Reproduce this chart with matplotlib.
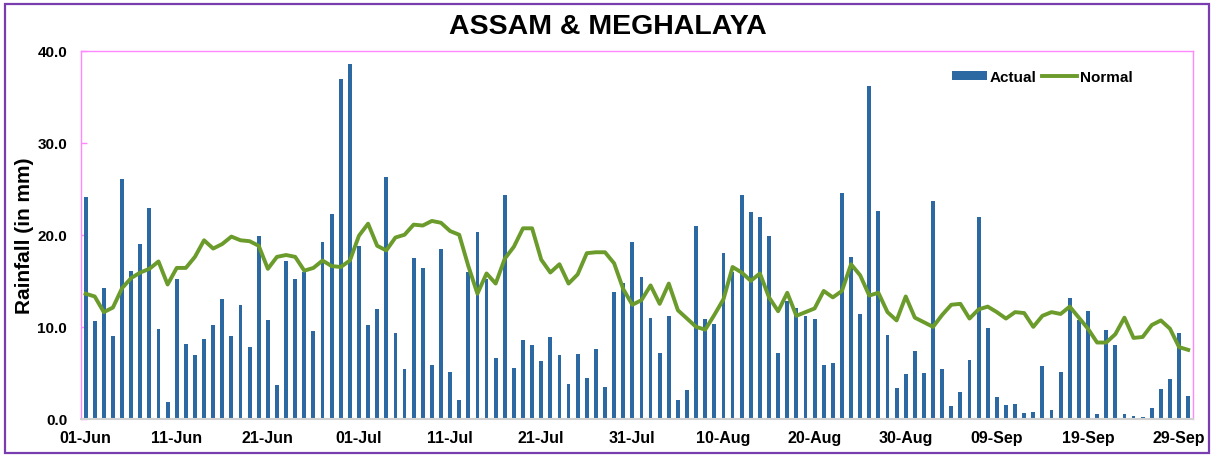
"""Daily rainfall: actual vs normal, Assam & Meghalaya (Jun-Sep)."""

import matplotlib

matplotlib.use("Agg")
import matplotlib.pyplot as plt
import numpy as np
import pandas as pd
from matplotlib.patches import Rectangle

# one entry per day, 01-Jun .. 30-Sep
dates = pd.date_range("2024-06-01", "2024-09-30", freq="D")

actual = [
    24.1, 10.6, 14.2, 9.0, 26.0, 16.1, 19.0, 22.9, 9.8, 1.8,
    15.2, 8.1, 6.9, 8.7, 10.2, 13.0, 9.0, 12.4, 7.8, 19.9,
    10.7, 3.7, 17.1, 15.2, 16.0, 9.5, 19.2, 22.3, 36.9, 38.5,
    18.8, 10.2, 11.9, 26.3, 9.3, 5.4, 17.5, 16.4, 5.9, 18.5,
    5.1, 2.1, 16.0, 20.3, 15.2, 6.6, 24.3, 5.5, 8.6, 8.0,
    6.3, 8.9, 6.9, 3.8, 7.1, 4.4, 7.6, 3.5, 13.8, 14.8,
    19.2, 15.4, 11.0, 7.2, 11.2, 2.1, 3.2, 21.0, 10.8, 10.3,
    18.0, 16.0, 24.3, 22.5, 21.9, 19.9, 7.2, 12.8, 12.1, 11.2,
    10.9, 5.9, 6.1, 24.5, 17.6, 11.4, 36.2, 22.6, 9.1, 3.4,
    4.9, 7.4, 5.0, 23.7, 5.4, 1.4, 2.9, 6.4, 21.9, 9.9,
    2.4, 1.5, 1.6, 0.6, 0.8, 5.8, 1.0, 5.1, 13.1, 10.7,
    11.7, 0.5, 9.7, 8.0, 0.5, 0.3, 0.2, 1.2, 3.3, 4.3,
    9.3, 2.5,
]

normal = [
    13.6, 13.3, 11.6, 12.1, 14.2, 15.3, 15.9, 16.3, 17.1, 14.6,
    16.4, 16.4, 17.6, 19.4, 18.5, 19.0, 19.8, 19.4, 19.3, 18.8,
    16.3, 17.6, 17.8, 17.6, 16.1, 16.4, 17.2, 16.6, 16.5, 17.2,
    19.9, 21.2, 18.8, 18.3, 19.7, 20.0, 21.1, 21.0, 21.5, 21.3,
    20.4, 20.0, 16.6, 13.6, 15.8, 14.7, 17.4, 18.7, 20.7, 20.7,
    17.3, 15.9, 16.8, 14.7, 15.7, 18.0, 18.1, 18.1, 16.9, 14.1,
    12.4, 12.9, 14.5, 12.5, 14.7, 11.8, 10.9, 10.0, 9.7, 11.3,
    13.0, 16.5, 15.9, 15.0, 15.8, 13.2, 11.7, 13.7, 11.2, 11.6,
    12.0, 13.9, 13.2, 13.9, 16.8, 15.6, 13.4, 13.7, 11.6, 10.7,
    13.3, 11.0, 10.5, 10.0, 11.3, 12.4, 12.5, 10.9, 11.9, 12.2,
    11.6, 10.9, 11.6, 11.5, 10.0, 11.2, 11.6, 11.4, 12.2, 11.0,
    9.8, 8.3, 8.3, 9.2, 11.0, 8.8, 8.9, 10.2, 10.7, 9.8,
    7.8, 7.5,
]

tick_step = 10
y_ticks = [0, 10, 20, 30, 40]

BAR_BLUE = "#2C69A3"
LINE_GREEN = "#6A9B2B"
FRAME_PINK = "#FF88FF"

plt.rcParams["font.family"] = ["Liberation Sans", "DejaVu Sans"]
plt.rcParams["font.weight"] = "bold"

fig = plt.figure(figsize=(12.15, 4.56), dpi=100)
ax = fig.add_axes([0.0667, 0.079, 0.915, 0.808])

x = np.arange(len(dates))
bars = ax.bar(x, actual, width=0.42, color=BAR_BLUE, label="Actual", zorder=2)
(line,) = ax.plot(x, normal, color=LINE_GREEN, linewidth=2.8, label="Normal", zorder=3)

ax.set_xlim(-0.5, len(dates) - 0.5)
ax.set_ylim(0, 40)
ax.set_yticks(y_ticks)
ax.set_yticklabels([f"{v:.1f}" for v in y_ticks])
ax.set_xticks(x[::tick_step])
ax.set_xticklabels([d.strftime("%d-%b") for d in dates[::tick_step]])

ax.tick_params(axis="y", direction="in", length=4, width=1, color=FRAME_PINK,
               pad=10, labelsize=11)
ax.tick_params(axis="x", length=0, pad=8, labelsize=11.5)
for lbl in ax.get_xticklabels() + ax.get_yticklabels():
    lbl.set_fontweight("bold")

for side in ("left", "top", "right"):
    ax.spines[side].set_color(FRAME_PINK)
    ax.spines[side].set_linewidth(1)
ax.spines["bottom"].set_color("#D0D0D0")
ax.spines["bottom"].set_linewidth(1.5)

ax.set_ylabel("Rainfall (in mm)", fontsize=15, fontweight="bold")
ax.yaxis.set_label_coords(-0.042, 0.5)

fig.text(0.5, 0.94, "ASSAM & MEGHALAYA", ha="center", va="center",
         fontsize=20.5, fontweight="bold")

ax.legend([bars, line], ["Actual", "Normal"], loc="upper right",
          bbox_to_anchor=(0.958, 0.985), ncol=2, frameon=False,
          handlelength=2.3, handleheight=0.5, handletextpad=0.15,
          columnspacing=0.4, prop={"weight": "bold", "size": 11})

# purple frame round the whole chart
fig.patches.append(Rectangle((5 / 1215, 2 / 456), 1204 / 1215, 449 / 456,
                             transform=fig.transFigure, fill=False,
                             edgecolor="#7A3DB0", linewidth=1.6))

fig.savefig("out.png", dpi=100)
plt.close(fig)
